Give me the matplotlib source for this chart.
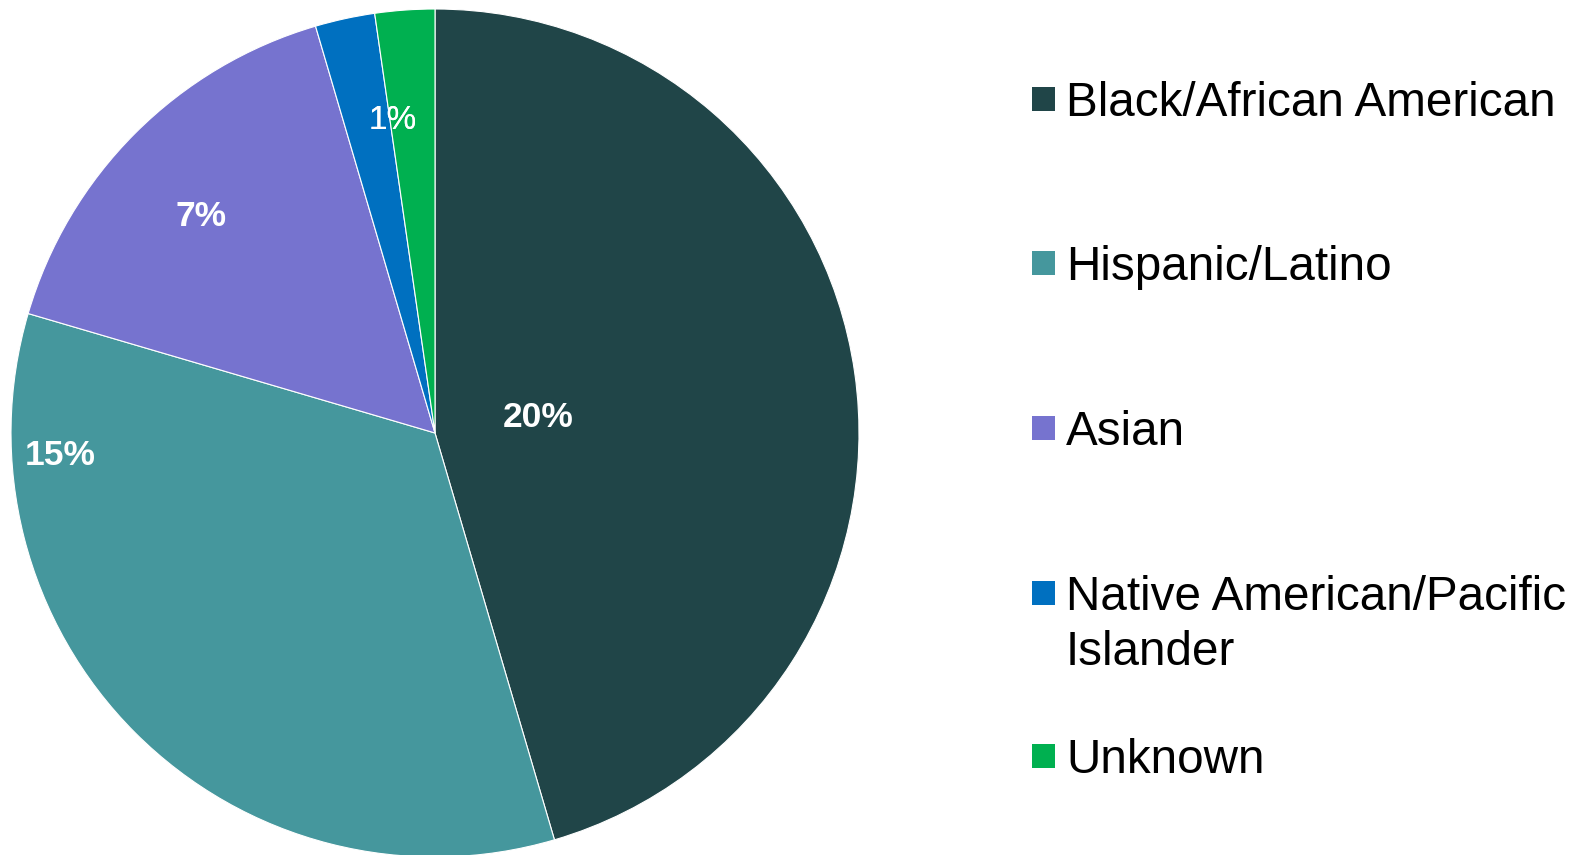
import matplotlib
matplotlib.use("Agg")
import matplotlib.pyplot as plt
from matplotlib.patches import Rectangle
import numpy as np

categories = ["Black/African American", "Hispanic/Latino", "Asian",
              "Native American/Pacific\nIslander", "Unknown"]
values = [20, 15, 7, 1, 1]
colors = ["#204548", "#45979D", "#7673CF", "#0070C0", "#00B050"]

# label placement (radius fraction, angle in degrees) per wedge
label_pos = [(0.246, 8.8), (0.886, 183.4), (0.753, 137.2), (0.743, 97.8), (0.743, 97.8)]
label_weight = ["bold", "bold", "bold", "normal", "normal"]

plt.rcParams["font.family"] = ["Liberation Sans", "DejaVu Sans"]

W, H = 1577, 855
fig = plt.figure(figsize=(W / 100, H / 100), dpi=100)
cx, cy, r = 435, 433, 424
ax = fig.add_axes([(cx - r) / W, (H - cy - r) / H, 2 * r / W, 2 * r / H])

wedges, _ = ax.pie(values, colors=colors, startangle=90, counterclock=False,
                   radius=1, wedgeprops=dict(linewidth=0.8, edgecolor="white"))
ax.set_xlim(-1, 1)
ax.set_ylim(-1, 1)
ax.set_aspect("equal")
ax.axis("off")

for v, (d, ang), wt in zip(values, label_pos, label_weight):
    a = np.deg2rad(ang)
    ax.text(d * np.cos(a), d * np.sin(a), f"{v}%", color="white",
            fontsize=25.5 if wt == "bold" else 24, fontweight=wt,
            ha="center", va="center")

# legend drawn as squares and labels on the right
ys = [99, 263, 428, 593, 756]
line_gap = 55
text_shift = 4
for y, c, lab in zip(ys, colors, categories):
    fig.patches.append(Rectangle((1032 / W, (H - y - 12) / H), 23 / W, 24 / H,
                                 transform=fig.transFigure, facecolor=c,
                                 edgecolor="none"))
    for i, line in enumerate(lab.split("\n")):
        fig.text(1066 / W, (H - y - text_shift - i * line_gap) / H, line,
                 fontsize=34.3, color="black", ha="left", va="center")

fig.savefig("out.png", dpi=100, facecolor="white")
